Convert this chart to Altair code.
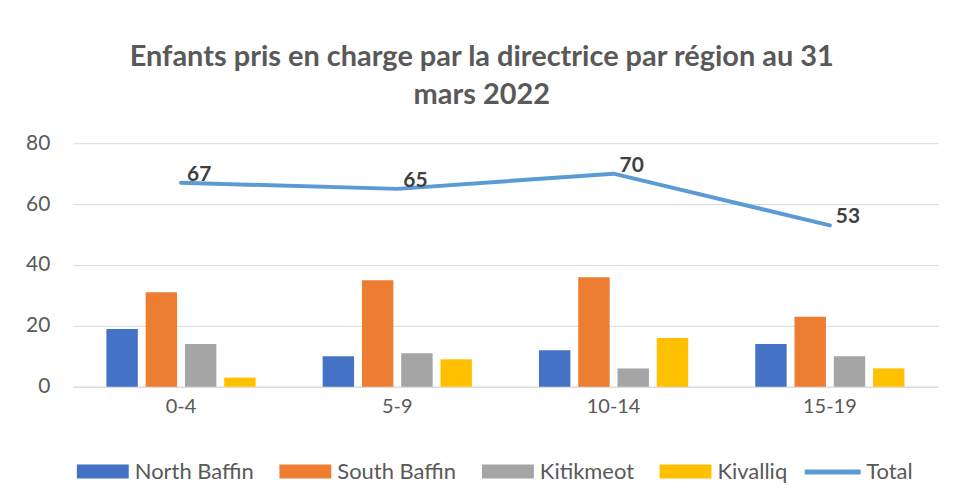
import altair as alt
import pandas as pd

ages = ["0-4", "5-9", "10-14", "15-19"]
regions = ["North Baffin", "South Baffin", "Kitikmeot", "Kivalliq"]
north_baffin = [19, 10, 12, 14]
south_baffin = [31, 35, 36, 23]
kitikmeot = [14, 11, 6, 10]
kivalliq = [3, 9, 16, 6]
total = [67, 65, 70, 53]

bar_colors = ["#4472C4", "#ED7D31", "#A5A5A5", "#FFC000"]
line_color = "#5B9BD5"

rows = []
for vals, reg in zip([north_baffin, south_baffin, kitikmeot, kivalliq], regions):
    for a, v in zip(ages, vals):
        rows.append({"age": a, "series": reg, "value": v})
bars_df = pd.DataFrame(rows)
line_df = pd.DataFrame({"age": ages, "series": ["Total"] * 4, "value": total})

FONT = "Lato"
GREY = "#595959"

xscale = alt.Scale(domain=ages, paddingInner=0.31, paddingOuter=0.155)
yscale = alt.Scale(domain=[0, 80])

legend_common = dict(
    title=None,
    orient="none",
    direction="horizontal",
    labelFont=FONT,
    labelFontSize=22,
    labelColor=GREY,
    padding=0,
)

x_axis = alt.Axis(
    title=None,
    labelAngle=0,
    labelFont=FONT,
    labelFontSize=20,
    labelColor=GREY,
    ticks=False,
    domainColor="#D9D9D9",
    labelPadding=10,
    grid=False,
)
y_axis = alt.Axis(
    title=None,
    values=[0, 20, 40, 60, 80],
    labelFont=FONT,
    labelFontSize=21,
    labelColor=GREY,
    ticks=False,
    domain=False,
    gridColor="#D9D9D9",
    labelPadding=23,
)

bars = alt.Chart(bars_df).mark_bar().encode(
    x=alt.X("age:N", scale=xscale, axis=x_axis, sort=ages),
    xOffset=alt.XOffset("series:N", sort=regions, scale=alt.Scale(paddingInner=0.2, paddingOuter=0)),
    y=alt.Y("value:Q", scale=yscale, axis=y_axis),
    color=alt.Color(
        "series:N",
        scale=alt.Scale(domain=regions, range=bar_colors),
        legend=alt.Legend(
            symbolType="M-1,-0.27 L1,-0.27 L1,0.27 L-1,0.27 Z",
            symbolStrokeWidth=0,
            symbolSize=2704,
            labelOffset=6,
            columnPadding=25,
            legendX=4,
            legendY=303,
            **legend_common,
        ),
    ),
)

line = alt.Chart(line_df).mark_line(strokeWidth=4, strokeCap="round").encode(
    x=alt.X("age:N", scale=xscale, sort=ages),
    y=alt.Y("value:Q", scale=yscale),
    stroke=alt.Stroke(
        "series:N",
        scale=alt.Scale(domain=["Total"], range=[line_color]),
        legend=alt.Legend(
            symbolType="stroke",
            symbolStrokeWidth=5,
            symbolSize=3136,
            labelOffset=3,
            legendX=731,
            legendY=299,
            **legend_common,
        ),
    ),
)

labels = alt.Chart(line_df).mark_text(
    align="left", baseline="middle", dx=6, dy=-8, font=FONT, fontSize=21, fontWeight="bold", color="#404040"
).encode(
    x=alt.X("age:N", scale=xscale, sort=ages),
    y=alt.Y("value:Q", scale=yscale),
    text="value:Q",
)

chart = (
    alt.layer(bars, line, labels)
    .resolve_scale(color="independent", stroke="independent")
    .properties(
        width=867,
        height=244,
        background="white",
        padding={"left": 17, "top": 35, "right": 8, "bottom": 5},
        title=alt.TitleParams(
            text=["Enfants pris en charge par la directrice par région au 31", "mars 2022"],
            font=FONT,
            fontSize=29,
            fontWeight="bold",
            color=GREY,
            anchor="middle",
            frame="bounds",
            lineHeight=38,
            offset=22,
        ),
    )
    .configure_view(stroke="transparent", strokeWidth=0)
)

chart.save("out.html", embed_options={"renderer": "svg", "actions": False})
